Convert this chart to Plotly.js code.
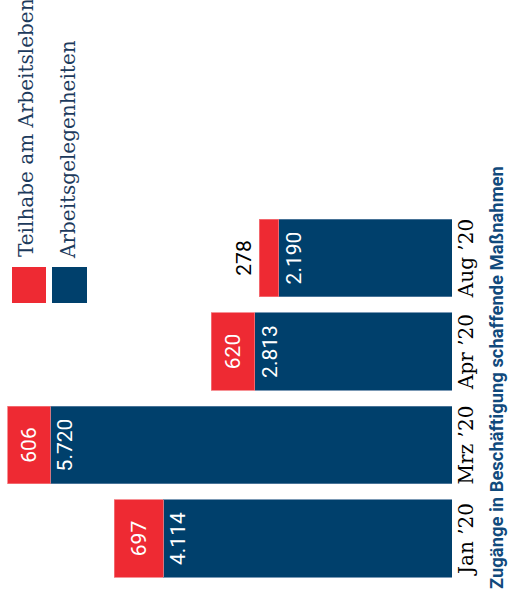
<!DOCTYPE html>
<html>
<head>
<meta charset="utf-8">
<script src="https://cdn.plot.ly/plotly-3.0.1.min.js"></script>
<style>
html, body { margin: 0; padding: 0; background: #ffffff; overflow: hidden; width: 509px; height: 598px; }
#chart { position: absolute; left: 0; top: 598px; width: 598px; height: 509px; transform-origin: 0 0; transform: rotate(-90deg); }
</style>
</head>
<body>
<div id="chart"></div>
<script>
// Data
var categories = ["Jan \u201920", "Mrz \u201920", "Apr \u201920", "Aug \u201920"];
var arbeitsgelegenheiten = [4114, 5720, 2813, 2470];          // bar lengths as drawn
var arbeitsgelegenheitenLabels = ["4.114", "5.720", "2.813", "2.190"];
var teilhabe = [697, 606, 620, 275];
var teilhabeLabels = ["697", "606", "620", "278"];
var seriesNames = ["Teilhabe am Arbeitsleben", "Arbeitsgelegenheiten"];
var axisTitle = "Zug\u00e4nge in Besch\u00e4ftigung schaffende Ma\u00dfnahmen";

var blue = "#00406c";
var red = "#ee2a33";

var traces = [
  {
    type: "bar",
    x: categories,
    y: arbeitsgelegenheiten,
    name: seriesNames[1],
    text: arbeitsgelegenheitenLabels,
    textposition: "inside",
    insidetextanchor: "end",
    textangle: 0,
    insidetextfont: { family: "Roboto", size: 21, color: "#ffffff" },
    marker: { color: blue, line: { color: "#5a7fa3", width: 0.8 } },
    hoverinfo: "skip"
  },
  {
    type: "bar",
    x: categories,
    y: teilhabe,
    name: seriesNames[0],
    text: teilhabeLabels,
    textposition: ["inside", "inside", "inside", "outside"],
    insidetextanchor: "middle",
    textangle: 0,
    insidetextfont: { family: "Roboto", size: 21, color: "#ffffff" },
    outsidetextfont: { family: "Roboto", size: 21, color: "#000000" },
    marker: { color: red, line: { color: "#f4777c", width: 0.8 } },
    cliponaxis: false,
    hoverinfo: "skip"
  }
];

var layout = {
  width: 598,
  height: 509,
  margin: { l: 0, r: 0, t: 0, b: 0 },
  paper_bgcolor: "#ffffff",
  plot_bgcolor: "#ffffff",
  barmode: "stack",
  bargap: 0.176,
  showlegend: false,
  xaxis: {
    domain: [12.75 / 598, 386.75 / 598],
    type: "category",
    showgrid: false,
    showline: false,
    zeroline: false,
    ticks: "",
    tickfont: { family: "DejaVu Serif", size: 20, color: "#000000" },
    automargin: false,
    fixedrange: true
  },
  yaxis: {
    domain: [(509 - 452) / 509, 1],
    range: [0, 6439],
    showgrid: false,
    showline: false,
    zeroline: false,
    showticklabels: false,
    ticks: "",
    automargin: false,
    fixedrange: true
  },
  shapes: [
    { type: "rect", xref: "paper", yref: "paper", x0: 295 / 598, x1: 331 / 598, y0: (509 - 46) / 509, y1: (509 - 12) / 509, fillcolor: red, line: { width: 0 } },
    { type: "rect", xref: "paper", yref: "paper", x0: 295 / 598, x1: 331 / 598, y0: (509 - 87) / 509, y1: (509 - 52) / 509, fillcolor: blue, line: { width: 0 } }
  ],
  annotations: [
    { xref: "paper", yref: "paper", x: 339 / 598, y: (509 - 26) / 509, xanchor: "left", yanchor: "middle", showarrow: false,
      text: seriesNames[0], font: { family: "DejaVu Serif", size: 20, color: "#1c3a5c" } },
    { xref: "paper", yref: "paper", x: 337 / 598, y: (509 - 68) / 509, xanchor: "left", yanchor: "middle", showarrow: false,
      text: seriesNames[1], font: { family: "DejaVu Serif", size: 20, color: "#1c3a5c" } },
    { xref: "paper", yref: "paper", x: 7 / 598, y: (509 - 496) / 509, xanchor: "left", yanchor: "middle", showarrow: false,
      text: "<b>" + axisTitle + "</b>", font: { family: "Roboto", size: 18.4, color: "#114a7c" } }
  ]
};

Plotly.newPlot("chart", traces, layout, { displayModeBar: false, staticPlot: true });
</script>
</body>
</html>
